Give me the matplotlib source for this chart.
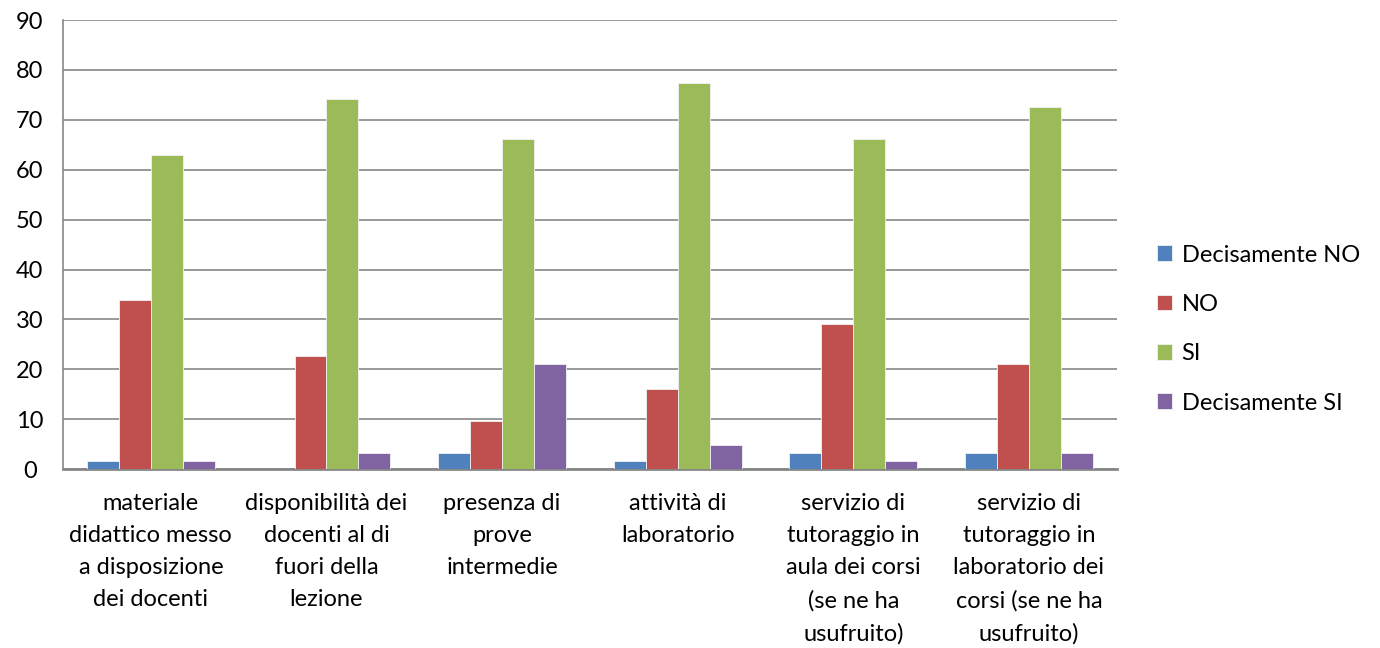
import numpy as np
import matplotlib.pyplot as plt

plt.rcParams['font.family'] = ['Lato', 'DejaVu Sans']

categorie = ["materiale\ndidattico messo\na disposizione\ndei docenti",
             "disponibilità dei\ndocenti al di\nfuori della\nlezione",
             "presenza di\nprove\nintermedie",
             "attività di\nlaboratorio",
             "servizio di\ntutoraggio in\naula dei corsi\n(se ne ha\nusufruito)",
             "servizio di\ntutoraggio in\nlaboratorio dei\ncorsi (se ne ha\nusufruito)"]

decisamente_no = [1.6, 0.0, 3.2, 1.6, 3.2, 3.2]
no = [33.9, 22.6, 9.7, 16.1, 29.0, 21.0]
si = [62.9, 74.2, 66.1, 77.4, 66.1, 72.6]
decisamente_si = [1.6, 3.2, 21.0, 4.8, 1.6, 3.2]

serie = [("Decisamente NO", decisamente_no, '#4F81BD'),
         ("NO", no, '#C0504D'),
         ("SI", si, '#9BBB59'),
         ("Decisamente SI", decisamente_si, '#8064A2')]

fig = plt.figure(figsize=(13.8, 6.48), dpi=100)
ax = fig.add_axes([0.0457, 0.276, 0.7635, 0.693])

x = np.arange(len(categorie))
w = 0.182
for i, (nome, val, col) in enumerate(serie):
    ax.bar(x + (i - 1.5) * w, val, w, color=col, label=nome,
           edgecolor='#F2F2F2', linewidth=0.6, zorder=3)

ax.set_xlim(-0.5, len(categorie) - 0.5)
ax.set_ylim(0, 90)
ax.set_yticks(range(0, 91, 10))
ax.yaxis.grid(True, color='#878787', linewidth=1.2, zorder=0)
ax.set_xticks(x)
ax.set_xticklabels(categorie, fontsize=17, linespacing=1.66, va='top')
ax.tick_params(axis='y', labelsize=17, length=0, pad=24)
ax.tick_params(axis='x', length=0, pad=17)
for t in ax.get_yticklabels():
    t.set_horizontalalignment('center')

for s in ['top', 'right']:
    ax.spines[s].set_visible(False)
ax.spines['left'].set_color('#878787')
ax.spines['left'].set_linewidth(1.2)
ax.spines['bottom'].set_color('#878787')
ax.spines['bottom'].set_linewidth(2)

ax.legend(loc='center left', bbox_to_anchor=(1.018, 0.312), frameon=False,
          fontsize=17, handlelength=0.65, handleheight=0.65,
          handletextpad=0.4, labelspacing=1.2)

fig.savefig('out.png', dpi=100)
